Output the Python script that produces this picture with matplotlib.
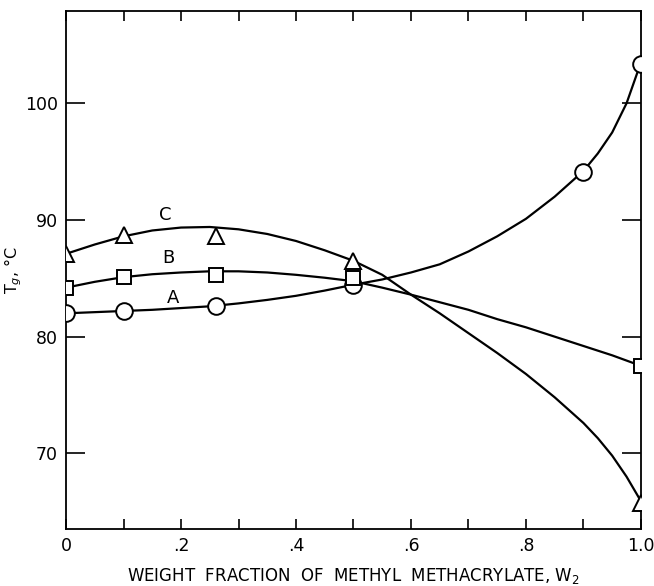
import matplotlib
matplotlib.use("Agg")
from matplotlib import pyplot as plt

plt.rcParams['font.family'] = ['DejaVu Sans']

# measured points
xa = [0, 0.1, 0.26, 0.5, 0.9, 1.0]
ya = [82.0, 82.2, 82.6, 84.4, 94.1, 103.4]
xb = [0, 0.1, 0.26, 0.5, 1.0]
yb = [84.2, 85.1, 85.3, 85.0, 77.5]
xc = [0, 0.1, 0.26, 0.5, 1.0]
yc = [87.1, 88.7, 88.6, 86.5, 65.7]

# fitted curves
xcurve = [0, 0.05, 0.1, 0.15, 0.2, 0.25, 0.3, 0.35, 0.4, 0.45, 0.5,
          0.55, 0.6, 0.65, 0.7, 0.75, 0.8, 0.85, 0.9, 0.925, 0.95, 0.975, 1.0]
curve_a = [82.0, 82.1, 82.2, 82.3, 82.45, 82.6, 82.85, 83.15, 83.5, 83.95, 84.45,
           84.9, 85.5, 86.2, 87.3, 88.6, 90.1, 92.0, 94.2, 95.7, 97.5, 100.0, 103.5]
curve_b = [84.2, 84.7, 85.1, 85.35, 85.5, 85.6, 85.6, 85.5, 85.3, 85.05, 84.75,
           84.2, 83.6, 82.95, 82.3, 81.5, 80.8, 80.0, 79.2, 78.8, 78.4, 77.95, 77.5]
curve_c = [87.1, 87.9, 88.6, 89.1, 89.35, 89.4, 89.2, 88.8, 88.2, 87.4, 86.5,
           85.3, 83.6, 82.0, 80.3, 78.6, 76.8, 74.8, 72.6, 71.3, 69.8, 68.0, 65.9]

xticks = [0, 0.2, 0.4, 0.6, 0.8, 1.0]
xticklabels = ['0', '.2', '.4', '.6', '.8', '1.0']
yticks = [70, 80, 90, 100]

fig = plt.figure(figsize=(6.54, 5.86), dpi=100)
ax = fig.add_axes([0.101, 0.097, 0.879, 0.884])

for xs, ys in [(xcurve, curve_a), (xcurve, curve_b), (xcurve, curve_c)]:
    ax.plot(xs, ys, color='black', lw=1.6, zorder=2)

ax.plot(xa, ya, 'o', ms=12, mfc='white', mec='black', mew=1.4, zorder=3)
ax.plot(xb, yb, 's', ms=10, mfc='white', mec='black', mew=1.4, zorder=3)
ax.plot(xc, yc, '^', ms=11, mfc='white', mec='black', mew=1.4, zorder=3)

ax.text(0.186, 83.3, 'A', fontsize=13, ha='center', va='center')
ax.text(0.178, 86.7, 'B', fontsize=13, ha='center', va='center')
ax.text(0.172, 90.4, 'C', fontsize=13, ha='center', va='center')

ax.set_xlim(0, 1.0)
ax.set_ylim(63.5, 107.9)
ax.set_xticks(xticks)
ax.set_xticklabels(xticklabels)
ax.set_xticks([0.1, 0.3, 0.5, 0.7, 0.9], minor=True)
ax.set_yticks(yticks)
ax.tick_params(axis='x', which='both', direction='in', top=True, length=7, width=1.2,
               labelsize=12.5, pad=6)
ax.tick_params(axis='y', direction='in', right=True, length=14, width=1.2,
               labelsize=12.5, pad=6)
for s in ax.spines.values():
    s.set_linewidth(1.3)

ax.set_xlabel('WEIGHT  FRACTION  OF  METHYL  METHACRYLATE, W$_2$', fontsize=12)
ax.xaxis.set_label_coords(0.5, -0.072)
ax.set_ylabel('T$_g$, °C', fontsize=11.5)
ax.yaxis.set_label_coords(-0.074, 0.5)

fig.savefig('out.png', dpi=100)
